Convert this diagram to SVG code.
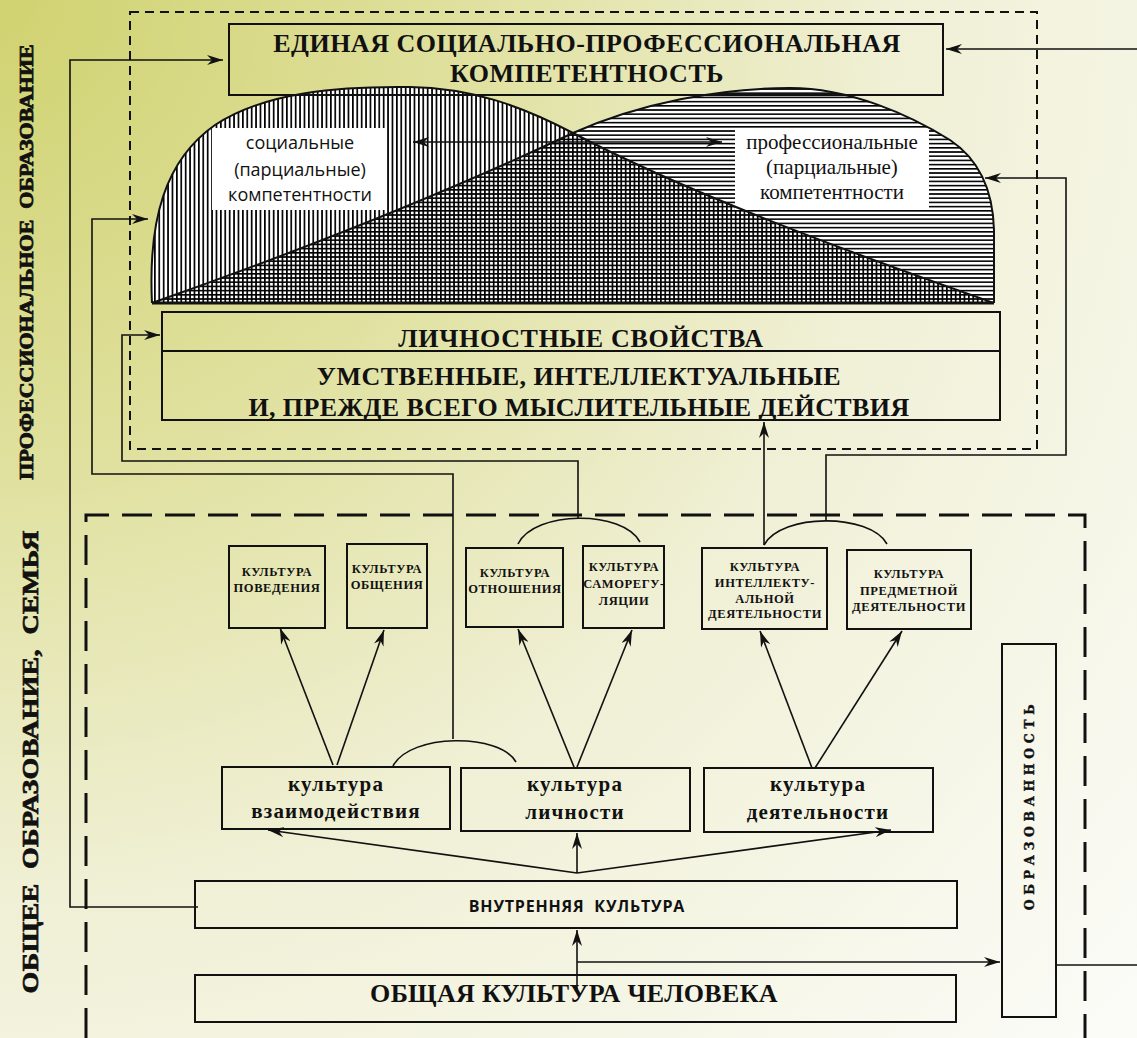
<svg xmlns="http://www.w3.org/2000/svg" width="1137" height="1038" viewBox="0 0 1137 1038">
<defs>
<radialGradient id="bg" cx="0" cy="0" r="1500" gradientUnits="userSpaceOnUse">
<stop offset="0" stop-color="#d0d270"/>
<stop offset="0.3" stop-color="#dfe09c"/>
<stop offset="0.6" stop-color="#f0f0d6"/>
<stop offset="1" stop-color="#fbfbf7"/>
</radialGradient>
<pattern id="vh" width="4.4" height="10" patternUnits="userSpaceOnUse"><rect x="0" y="0" width="1.7" height="10" fill="#000"/></pattern>
<pattern id="hh" width="10" height="4.2" patternUnits="userSpaceOnUse"><rect x="0" y="0" width="10" height="1.6" fill="#000"/></pattern>
<marker id="ah" viewBox="0 0 16 10" refX="16" refY="5" markerWidth="16" markerHeight="10" markerUnits="userSpaceOnUse" orient="auto-start-reverse">
<path d="M0,0 L16,5 L0,10 L5,5 Z" fill="#111"/>
</marker>
<style>
.box{fill:none;stroke:#111;stroke-width:2}
.ln{fill:none;stroke:#111;stroke-width:1.6}
.arr{fill:none;stroke:#111;stroke-width:1.6;marker-end:url(#ah)}
.sb{font-family:"Liberation Serif","Times New Roman",serif;font-weight:bold;fill:#111}
.sr{font-family:"Liberation Serif","Times New Roman",serif;fill:#111}
.ss{font-family:"Open Sans","Liberation Sans",sans-serif;fill:#111}
.small{font-size:12.5px;letter-spacing:0.6px;text-anchor:middle}
.mid{font-size:21px;letter-spacing:1.2px;text-anchor:middle}
.big{font-size:26px;text-anchor:middle}
.side{stroke:#111;stroke-width:0.9;text-anchor:middle}
.crv{fill:none;stroke:#111;stroke-width:2}
</style>
</defs>
<rect x="0" y="0" width="1137" height="1038" fill="url(#bg)"/>

<g id="frames">
<rect x="130" y="12" width="907" height="437" fill="none" stroke="#111" stroke-width="2" stroke-dasharray="9,6"/>
<path d="M86,1038 V515 H1085 V1038" fill="none" stroke="#111" stroke-width="3" stroke-dasharray="30,13"/>
</g>

<g id="side-labels">
<text class="sb side" font-size="22" transform="translate(33,262) rotate(-90) scale(1,0.85)">ПРОФЕССИОНАЛЬНОЕ&#160; ОБРАЗОВАНИЕ</text>
<text class="sb side" font-size="28" letter-spacing="0.3" transform="translate(38,762) rotate(-90) scale(1,0.8)">ОБЩЕЕ&#160; ОБРАЗОВАНИЕ,&#160; СЕМЬЯ</text>
</g>

<g id="competence-shape">
<path d="M152,303 C148,220 165,160 215,125 C265,92 340,86 410,87 C470,88 520,105 573,133 C700,200 900,270 994,303 Z" fill="#fff"/>
<path d="M152,303 C260,265 420,205 573,133 C640,103 720,88 790,88 C850,88 910,115 950,140 C980,160 993,190 994,230 L994,303 Z" fill="#fff"/>
<path d="M152,303 C148,220 165,160 215,125 C265,92 340,86 410,87 C470,88 520,105 573,133 C700,200 900,270 994,303 Z" fill="url(#vh)"/>
<path d="M152,303 C260,265 420,205 573,133 C640,103 720,88 790,88 C850,88 910,115 950,140 C980,160 993,190 994,230 L994,303 Z" fill="url(#hh)"/>
<rect x="212" y="128" width="174" height="82" fill="#fff"/>
<rect x="735" y="128" width="194" height="82" fill="#fff"/>
<path class="crv" d="M152,303 C148,220 165,160 215,125 C265,92 340,86 410,87 C470,88 520,105 573,133 C700,200 900,270 994,303"/>
<path class="crv" d="M152,303 C260,265 420,205 573,133 C640,103 720,88 790,88 C850,88 910,115 950,140 C980,160 993,190 994,230 L994,303"/>
<line x1="152" y1="303" x2="994" y2="303" stroke="#111" stroke-width="3"/>
</g>

<g id="social-label">
<text class="ss" font-size="18" text-anchor="middle" x="300" y="149">социальные</text>
<text class="ss" font-size="18" text-anchor="middle" x="300" y="176">(парциальные)</text>
<text class="ss" font-size="18" text-anchor="middle" x="300" y="201">компетентности</text>
</g>
<g id="prof-label">
<text class="sr" font-size="21" text-anchor="middle" x="832" y="149">профессиональные</text>
<text class="sr" font-size="21" text-anchor="middle" x="832" y="174">(парциальные)</text>
<text class="sr" font-size="21" text-anchor="middle" x="832" y="199">компетентности</text>
</g>

<g id="unified">
<rect class="box" x="229" y="24" width="714" height="71"/>
<text class="sb big" letter-spacing="0.5" x="587" y="52">ЕДИНАЯ СОЦИАЛЬНО-ПРОФЕССИОНАЛЬНАЯ</text>
<text class="sb big" letter-spacing="0.5" x="587" y="82">КОМПЕТЕНТНОСТЬ</text>
</g>

<g id="personal">
<rect class="box" x="162" y="312" width="838" height="108"/>
<line x1="162" y1="351" x2="1000" y2="351" stroke="#111" stroke-width="2"/>
<text class="sb big" letter-spacing="0.7" x="581" y="347">ЛИЧНОСТНЫЕ СВОЙСТВА</text>
<text class="sb big" letter-spacing="0.5" x="579" y="385">УМСТВЕННЫЕ, ИНТЕЛЛЕКТУАЛЬНЫЕ</text>
<text class="sb big" letter-spacing="0.4" x="579" y="416">И, ПРЕЖДЕ ВСЕГО МЫСЛИТЕЛЬНЫЕ ДЕЙСТВИЯ</text>
</g>

<g id="k-povedenie"><rect class="box" x="229" y="546" width="96" height="82"/>
<text class="sb small" x="277" y="576">КУЛЬТУРА</text><text class="sb small" x="277" y="592">ПОВЕДЕНИЯ</text></g>
<g id="k-obshchenie"><rect class="box" x="347" y="544" width="80" height="84"/>
<text class="sb small" x="387" y="573">КУЛЬТУРА</text><text class="sb small" x="387" y="589">ОБЩЕНИЯ</text></g>
<g id="k-otnoshenie"><rect class="box" x="466" y="548" width="97" height="79"/>
<text class="sb small" x="515" y="577">КУЛЬТУРА</text><text class="sb small" x="515" y="593">ОТНОШЕНИЯ</text></g>
<g id="k-samoreg"><rect class="box" x="583" y="546" width="81" height="82"/>
<text class="sb small" x="624" y="571">КУЛЬТУРА</text><text class="sb small" x="624" y="588">САМОРЕГУ-</text><text class="sb small" x="624" y="605">ЛЯЦИИ</text></g>
<g id="k-intellekt"><rect class="box" x="702" y="548" width="125" height="81"/>
<text class="sb small" x="765" y="571">КУЛЬТУРА</text><text class="sb small" x="765" y="587">ИНТЕЛЛЕКТУ-</text><text class="sb small" x="765" y="603">АЛЬНОЙ</text><text class="sb small" x="765" y="618">ДЕЯТЕЛЬНОСТИ</text></g>
<g id="k-predmet"><rect class="box" x="847" y="550" width="124" height="79"/>
<text class="sb small" x="909" y="578">КУЛЬТУРА</text><text class="sb small" x="909" y="595">ПРЕДМЕТНОЙ</text><text class="sb small" x="909" y="611">ДЕЯТЕЛЬНОСТИ</text></g>

<g id="k-vzaimod"><rect class="box" x="222" y="767" width="228" height="62"/>
<text class="sb mid" x="336" y="791">культура</text><text class="sb mid" x="336" y="818">взаимодействия</text></g>
<g id="k-lichnost"><rect class="box" x="461" y="768" width="229" height="63"/>
<text class="sb mid" x="575" y="791">культура</text><text class="sb mid" x="575" y="819">личности</text></g>
<g id="k-deyat"><rect class="box" x="704" y="768" width="229" height="64"/>
<text class="sb mid" x="818" y="791">культура</text><text class="sb mid" x="818" y="819">деятельности</text></g>

<g id="inner-culture"><rect class="box" x="195" y="881" width="762" height="47"/>
<text class="ss" font-size="16" font-weight="bold" letter-spacing="0.8" text-anchor="middle" x="577" y="912">ВНУТРЕННЯЯ&#160; КУЛЬТУРА</text></g>

<g id="general-culture"><rect class="box" x="195" y="975" width="761" height="47"/>
<text class="sb big" letter-spacing="0.3" x="574" y="1002">ОБЩАЯ КУЛЬТУРА ЧЕЛОВЕКА</text></g>

<g id="obrazovannost"><rect class="box" x="1002" y="644" width="54" height="373"/>
<text font-family="'DejaVu Serif',serif" font-weight="bold" font-size="12.5" letter-spacing="4.6" stroke="#111" stroke-width="0.4" text-anchor="middle" fill="#111" transform="translate(1034,805) rotate(-90)">ОБРАЗОВАННОСТЬ</text></g>

<g id="connectors">
<polyline class="arr" points="198,907 70,907 70,60 223,60"/>
<polyline class="arr" points="1137,49 946,49"/>
<polyline class="arr" points="453,739 453,474 92,474 92,219 148,219"/>
<polyline class="arr" points="578,518 578,461 122,461 122,335 160,335"/>
<polyline class="arr" points="826,521 826,455 1066,455 1066,178 985,178"/>
<polyline class="arr" points="764,545 764,422"/>
<line x1="413" y1="142" x2="722" y2="142" stroke="#111" stroke-width="1.6" marker-start="url(#ah)" marker-end="url(#ah)"/>
<path class="ln" stroke-width="2" d="M393,766 C410,733 500,733 516,762"/>
<path class="ln" stroke-width="2" d="M518,544 C535,510 623,510 640,542"/>
<path class="ln" stroke-width="2" d="M764,545 C781,513 870,513 887,544"/>
<line class="arr" x1="333" y1="765" x2="280" y2="628"/>
<line class="arr" x1="337" y1="765" x2="384" y2="630"/>
<line class="arr" x1="574" y1="767" x2="518" y2="629"/>
<line class="arr" x1="577" y1="767" x2="632" y2="630"/>
<line class="arr" x1="812" y1="768" x2="760" y2="631"/>
<line class="arr" x1="815" y1="768" x2="902" y2="631"/>
<line class="arr" x1="577" y1="873" x2="268" y2="830"/>
<line class="arr" x1="577" y1="873" x2="577" y2="833"/>
<line class="arr" x1="577" y1="873" x2="891" y2="830"/>
<line class="arr" x1="577" y1="993" x2="577" y2="930"/>
<line class="arr" x1="577" y1="962" x2="1000" y2="962"/>
<line class="ln" x1="1056" y1="965" x2="1137" y2="965"/>
</g>
</svg>
